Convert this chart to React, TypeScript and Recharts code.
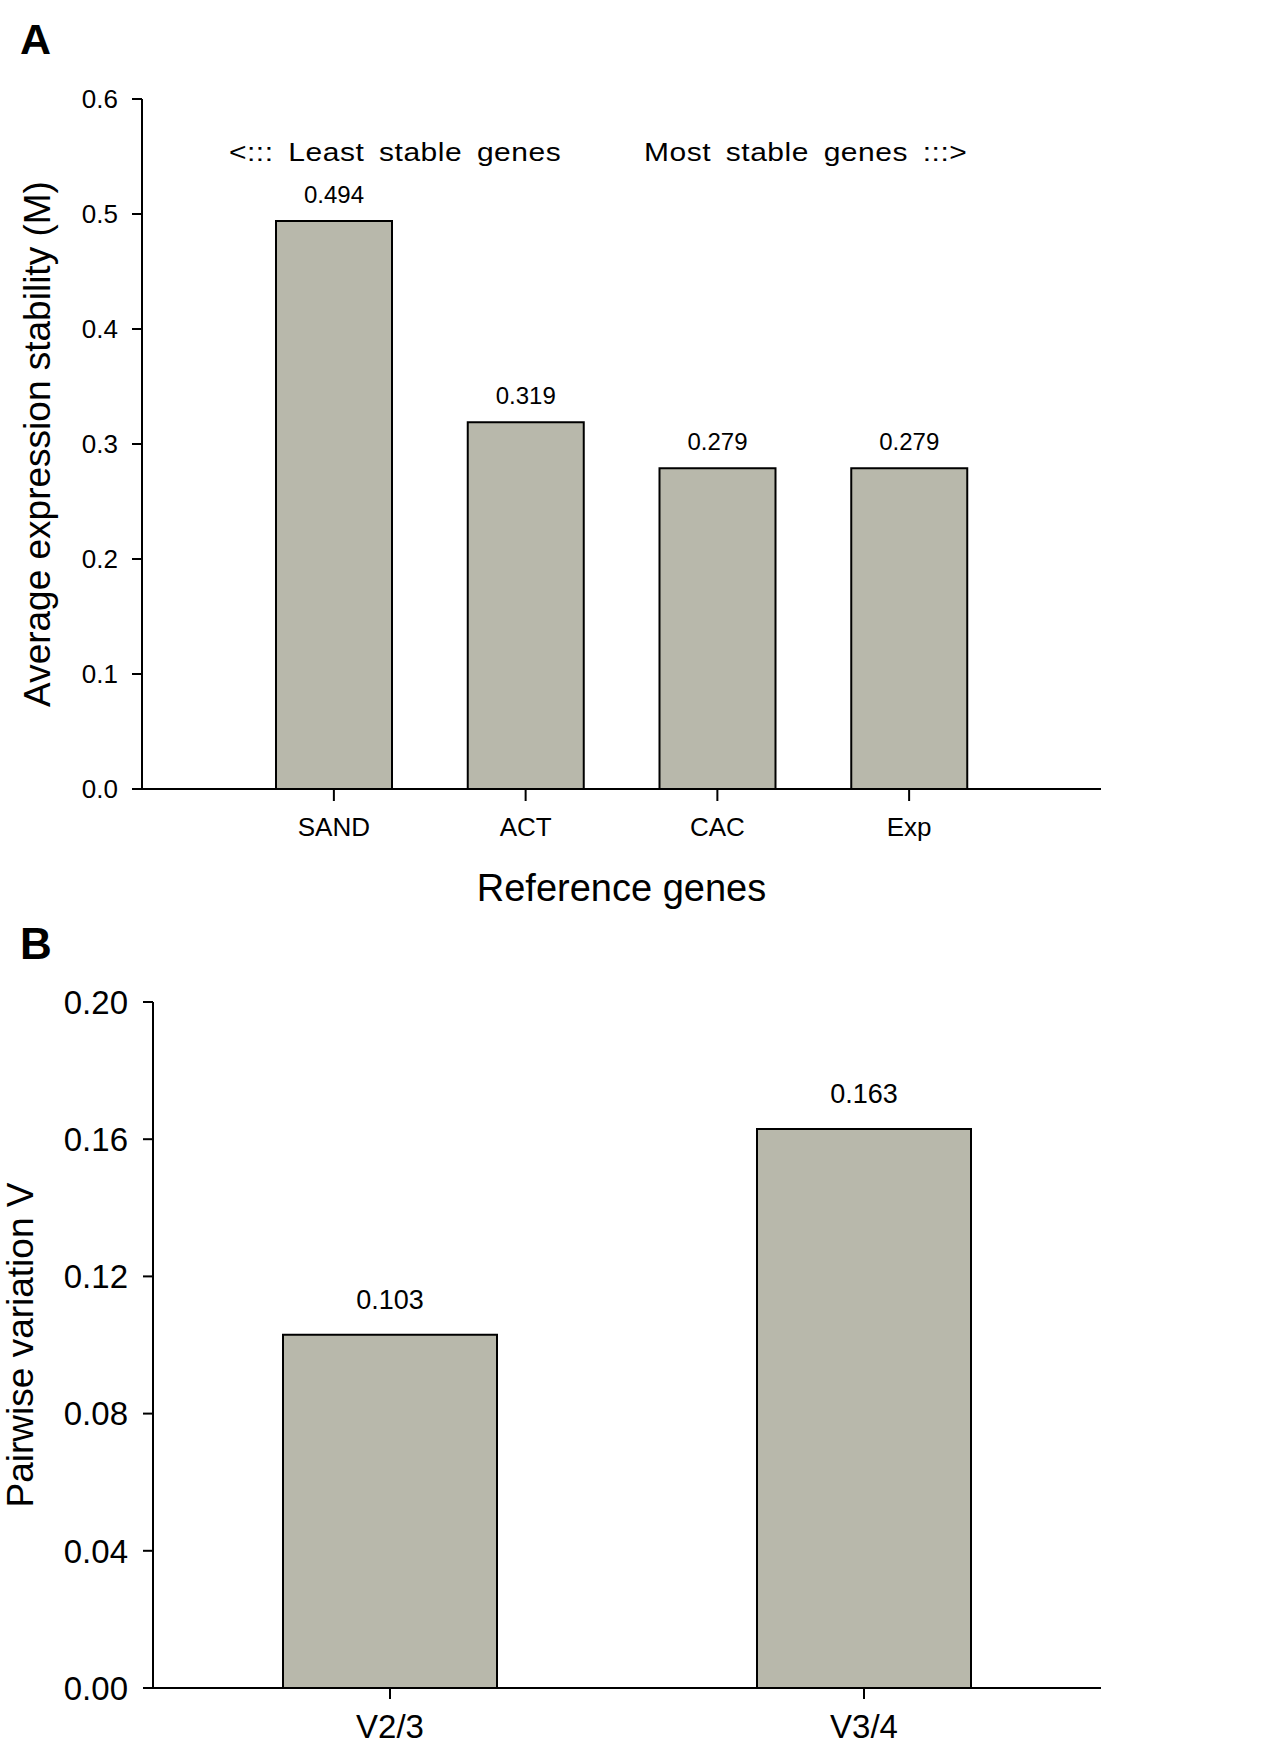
import React from "react";
import { BarChart, Bar, XAxis, YAxis, LabelList, Label } from "recharts";

// panel A: geNorm average expression stability
const genes = ["SAND", "ACT", "CAC", "Exp"];
const stability = [0.494, 0.319, 0.279, 0.279];
const stabilityTicks = [0, 0.1, 0.2, 0.3, 0.4, 0.5, 0.6];

// panel B: pairwise variation
const pairs = ["V2/3", "V3/4"];
const pairwise = [0.103, 0.163];
const pairwiseTicks = [0, 0.04, 0.08, 0.12, 0.16, 0.2];

const FONT = '"Liberation Sans", Arial, Helvetica, sans-serif';
const BAR_FILL = "#b8b8ab";
const INK = "#000";

const dataA = genes.map((g, i) => ({ gene: g, m: stability[i] }));
const dataB = pairs.map((p, i) => ({ pair: p, v: pairwise[i] }));

const axisLine = { stroke: INK, strokeWidth: 2 };

function ChartA() {
  return (
    <BarChart
      width={1267}
      height={920}
      data={dataA}
      margin={{ top: 99, right: 166, bottom: 31, left: 0 }}
    >
      <XAxis
        dataKey="gene"
        height={100}
        padding={{ left: 96, right: 96 }}
        axisLine={axisLine}
        tickLine={axisLine}
        tickSize={12}
        tickMargin={17}
        tick={{ fill: INK, fontSize: 26, fontFamily: FONT }}
      >
        <Label
          content={(props: any) => {
            const vb = props.viewBox;
            return (
              <text
                x={vb.x + vb.width / 2}
                y={vb.y + 112}
                textAnchor="middle"
                fill={INK}
                fontSize={38}
                fontFamily={FONT}
              >
                Reference genes
              </text>
            );
          }}
        />
      </XAxis>
      <XAxis
        xAxisId="top"
        orientation="top"
        dataKey="gene"
        height={0}
        padding={{ left: 96, right: 96 }}
        axisLine={axisLine}
        tick={false}
        tickLine={false}
      />
      <YAxis
        type="number"
        width={142}
        domain={[0, 0.6]}
        ticks={stabilityTicks}
        tickFormatter={(v: number) => v.toFixed(1)}
        axisLine={axisLine}
        tickLine={axisLine}
        tickSize={10}
        tickMargin={14}
        tick={{ fill: INK, fontSize: 26, fontFamily: FONT }}
      >
        <Label
          content={(props: any) => {
            const vb = props.viewBox;
            return (
              <text
                transform={`translate(${vb.x + 50}, ${vb.y + vb.height / 2}) rotate(-90)`}
                textAnchor="middle"
                fill={INK}
                fontSize={37}
                fontFamily={FONT}
              >
                Average expression stability (M)
              </text>
            );
          }}
        />
      </YAxis>
      <YAxis
        yAxisId="right"
        orientation="right"
        width={0}
        axisLine={axisLine}
        tick={false}
        tickLine={false}
      />
      <Bar
        dataKey="m"
        fill={BAR_FILL}
        stroke={INK}
        strokeWidth={2}
        barSize={116}
        isAnimationActive={false}
      >
        <LabelList
          dataKey="m"
          position="top"
          offset={18}
          formatter={(v: any) => Number(v).toFixed(3)}
          fill={INK}
          fontSize={24}
          fontFamily={FONT}
        />
      </Bar>
    </BarChart>
  );
}

function ChartB() {
  return (
    <BarChart
      width={1267}
      height={825}
      data={dataB}
      margin={{ top: 82, right: 166, bottom: 0, left: 0 }}
    >
      <XAxis
        dataKey="pair"
        height={57}
        axisLine={axisLine}
        tickLine={axisLine}
        tickSize={11}
        tickMargin={16}
        tick={{ fill: INK, fontSize: 33, fontFamily: FONT }}
      />
      <XAxis
        xAxisId="top"
        orientation="top"
        dataKey="pair"
        height={0}
        axisLine={axisLine}
        tick={false}
        tickLine={false}
      />
      <YAxis
        type="number"
        width={153}
        domain={[0, 0.2]}
        ticks={pairwiseTicks}
        tickFormatter={(v: number) => v.toFixed(2)}
        axisLine={axisLine}
        tickLine={axisLine}
        tickSize={10}
        tickMargin={15}
        tick={{ fill: INK, fontSize: 33, fontFamily: FONT }}
      >
        <Label
          content={(props: any) => {
            const vb = props.viewBox;
            return (
              <text
                transform={`translate(${vb.x + 33}, ${vb.y + vb.height / 2}) rotate(-90)`}
                textAnchor="middle"
                fill={INK}
                fontSize={37}
                fontFamily={FONT}
              >
                Pairwise variation V
              </text>
            );
          }}
        />
      </YAxis>
      <YAxis
        yAxisId="right"
        orientation="right"
        width={0}
        axisLine={axisLine}
        tick={false}
        tickLine={false}
      />
      <Bar
        dataKey="v"
        fill={BAR_FILL}
        stroke={INK}
        strokeWidth={2}
        barSize={214}
        isAnimationActive={false}
      >
        <LabelList
          dataKey="v"
          position="top"
          offset={26}
          formatter={(v: any) => Number(v).toFixed(3)}
          fill={INK}
          fontSize={27}
          fontFamily={FONT}
        />
      </Bar>
    </BarChart>
  );
}

export default function App() {
  return (
    <div style={{ position: "relative", width: 1267, height: 1745, background: "#fff" }}>
      <style>{"body{margin:0;background:#fff}"}</style>
      <div style={{ position: "absolute", left: 0, top: 0 }}>
        <ChartA />
      </div>
      <div style={{ position: "absolute", left: 0, top: 920 }}>
        <ChartB />
      </div>
      {/* panel letters and the stability annotations */}
      <svg
        width={1267}
        height={1745}
        style={{ position: "absolute", left: 0, top: 0, pointerEvents: "none" }}
      >
        <text x={20} y={54} fontSize={43} fontWeight="bold" fontFamily={FONT} fill={INK}>
          A
        </text>
        <text x={20} y={959} fontSize={44} fontWeight="bold" fontFamily={FONT} fill={INK}>
          B
        </text>
        <text
          transform="translate(229, 161) scale(1, 0.88)"
          fontSize={30}
          wordSpacing={6}
          letterSpacing={0.5}
          fontFamily={FONT}
          fill={INK}
        >
          {"<::: Least stable genes"}
        </text>
        <text
          transform="translate(644, 161) scale(1, 0.88)"
          fontSize={30}
          wordSpacing={6}
          letterSpacing={0.5}
          fontFamily={FONT}
          fill={INK}
        >
          {"Most stable genes :::>"}
        </text>
      </svg>
    </div>
  );
}
